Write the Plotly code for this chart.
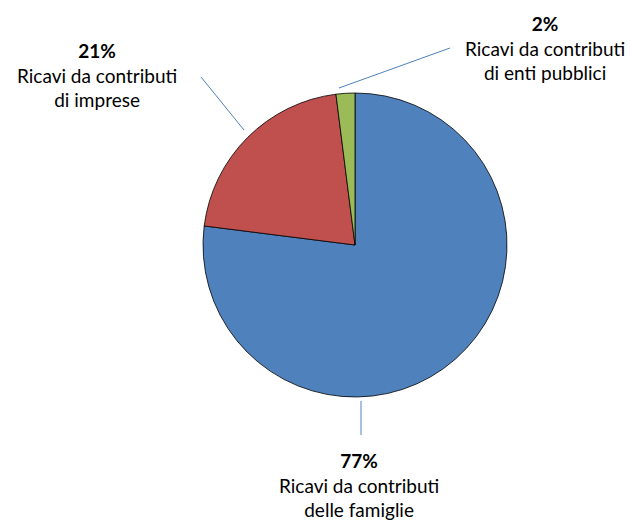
import plotly.graph_objects as go

W, H = 632, 522

labels = ["Ricavi da contributi delle famiglie",
          "Ricavi da contributi di imprese",
          "Ricavi da contributi di enti pubblici"]
values = [77, 21, 2]
pct_text = ["77%", "21%", "2%"]
label_lines = [["Ricavi da contributi", "delle famiglie"],
               ["Ricavi da contributi", "di imprese"],
               ["Ricavi da contributi", "di enti pubblici"]]
colors = ["#4F81BD", "#C0504D", "#9BBB59"]

# pie placement in pixels
cx, cy, r = 355, 245, 152

def px(x):
    return x / W

def py(y):
    return 1 - y / H

fig = go.Figure(go.Pie(
    labels=labels, values=values, sort=False, direction="clockwise", rotation=0,
    marker=dict(colors=colors, line=dict(color="black", width=0.8)),
    textinfo="none", hoverinfo="label+percent", showlegend=False,
    domain=dict(x=[px(cx - r), px(cx + r)], y=[py(cy + r), py(cy - r)]),
))

label_pos = [(359, 485), (97, 75), (545, 48)]
leaders = [((361, 401), (361, 435)), ((244, 130), (201, 77)), ((339, 88), (450, 48))]

for i in range(len(values)):
    x, y = label_pos[i]
    fig.add_annotation(
        x=px(x), y=py(y), xref="paper", yref="paper", showarrow=False,
        xanchor="center", yanchor="middle", align="center",
        text="<b>" + pct_text[i] + "</b><br>" + "<br>".join(label_lines[i]),
        font=dict(family="Lato, Open Sans, sans-serif", size=19, color="black"),
    )
    (x0, y0), (x1, y1) = leaders[i]
    fig.add_shape(type="line", xref="paper", yref="paper",
                  x0=px(x0), y0=py(y0), x1=px(x1), y1=py(y1),
                  line=dict(color="#4F81BD", width=1))

fig.update_layout(width=W, height=H, margin=dict(l=0, r=0, t=0, b=0),
                  paper_bgcolor="white", plot_bgcolor="white")
fig.write_html("out.html", config={"displayModeBar": False},
               post_script="document.body.style.margin='0';")
